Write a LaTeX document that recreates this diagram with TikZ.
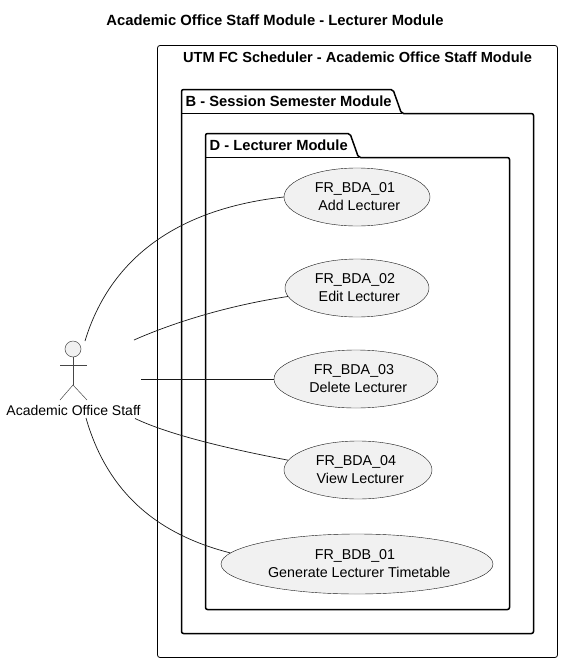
\documentclass[tikz,border=0pt]{standalone}
\usepackage{fontspec}
\setmainfont{Liberation Sans}
\usetikzlibrary{shapes.geometric}
\definecolor{usefill}{HTML}{F1F1F1}
\definecolor{useline}{HTML}{181818}
\newcommand{\caselabel}[2]{#1\kern4pt\\\kern4.5pt #2}
\tikzset{
  usecase/.style={ellipse,draw=useline,line width=0.4pt,fill=usefill,inner sep=0pt,align=center,font=\fontsize{14.3}{18}\selectfont},
  pack/.style={draw=black,line width=1.5pt,rounded corners=2pt},
  packname/.style={font=\bfseries\fontsize{14.7}{16}\selectfont,anchor=base west,inner sep=0pt},
  assoc/.style={draw=useline,line width=0.7pt},
  stick/.style={draw=useline!80,line width=0.5pt}
}
\begin{document}
\begin{tikzpicture}[x=1pt,y=-1pt]
\useasboundingbox (0,0) rectangle (562,662);
\node[font=\bfseries\fontsize{14.8}{16}\selectfont] (title) at (275,20) {Academic Office Staff Module - Lecturer Module};

% system box
\draw[line width=0.8pt,rounded corners=2.5pt] (157.5,45.5) rectangle (557.5,657.5);
\node[font=\bfseries\fontsize{14.6}{16}\selectfont] (system) at (357.5,57) {UTM FC Scheduler - Academic Office Staff Module};

% packages
\draw[pack] (181.5,113.5) -- (181.5,89.5) -- (393,89.5) -- (401.5,113.5) -- (533.5,113.5) -- (533.5,633.5) -- (181.5,633.5) -- cycle;
\draw[pack,sharp corners] (181.5,113.5) -- (401.5,113.5);
\node[packname] (sessionpack) at (185.5,106) {B - Session Semester Module};

\draw[pack] (205.5,157.5) -- (205.5,133.5) -- (350,133.5) -- (358.5,157.5) -- (509.5,157.5) -- (509.5,609.5) -- (205.5,609.5) -- cycle;
\draw[pack,sharp corners] (205.5,157.5) -- (358.5,157.5);
\node[packname] (lecturerpack) at (209.5,150) {D - Lecturer Module};

% use cases
\node[usecase,minimum width=146pt,minimum height=58pt] (bda1) at (357,197) {\caselabel{FR\_BDA\_01}{Add Lecturer}};
\node[usecase,minimum width=144pt,minimum height=58pt] (bda2) at (357,288) {\caselabel{FR\_BDA\_02}{Edit Lecturer}};
\node[usecase,minimum width=164pt,minimum height=58pt] (bda3) at (356,379) {\caselabel{FR\_BDA\_03}{Delete Lecturer}};
\node[usecase,minimum width=148pt,minimum height=58pt] (bda4) at (358,470) {\caselabel{FR\_BDA\_04}{View Lecturer}};
\node[usecase,minimum width=272pt,minimum height=60pt] (bdb1) at (357,564) {\caselabel{FR\_BDB\_01}{Generate Lecturer Timetable}};

% actor
\draw[stick,fill=usefill] (73,349) circle (8);
\draw[stick] (73,357) -- (73,385);
\draw[stick] (60,365) -- (87,365);
\draw[stick] (60,400) -- (73,385) -- (87,400);
\node[font=\fontsize{14}{16}\selectfont] (staff) at (73.5,410) {Academic Office Staff};

\coordinate (a1) at (85,341);
\coordinate (a2) at (134,340);
\coordinate (a3) at (141,379);
\coordinate (a4) at (135,418.5);
\coordinate (a5) at (86,418);

% associations
\draw[assoc] (a1) .. controls (105,275) and (158,211) .. (bda1.west);
\draw[assoc] (a2) .. controls (170,324) and (225,306) .. (bda2.187);
\draw[assoc] (a3) -- (bda3.west);
\draw[assoc] (a4) .. controls (172,436) and (235,450) .. (bda4.172);
\draw[assoc] (a5) .. controls (108,495) and (160,535) .. (bdb1.175);
\end{tikzpicture}
\end{document}
